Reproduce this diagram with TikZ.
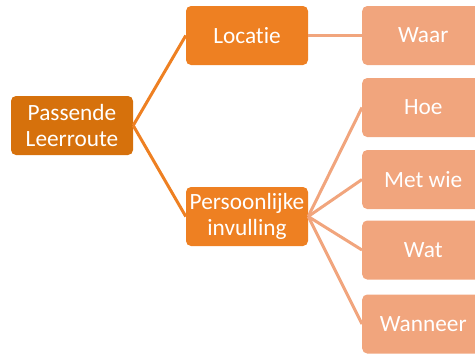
\documentclass[tikz,border=0pt]{standalone}
\usepackage{fontspec}
\setmainfont{Carlito}[Ligatures={NoCommon}]
\definecolor{rootc}{RGB}{214,113,12}
\definecolor{midc}{RGB}{238,128,34}
\definecolor{leafc}{RGB}{241,165,125}
\tikzset{
  box/.style={rounded corners=5pt, minimum width=122pt, minimum height=59pt, text=white, align=center, inner sep=0pt, font=\fontsize{23.3}{25.5}\selectfont},
  rootbox/.style={box, fill=rootc},
  midbox/.style={box, fill=midc},
  leafbox/.style={box, fill=leafc},
  midline/.style={draw=midc, line width=3pt},
  leafline/.style={draw=leafc, line width=3pt},
}
\begin{document}
\begin{tikzpicture}[x=1pt,y=-1pt]
\useasboundingbox (0,0) rectangle (475,354);
\begin{scope}
\clip (0,0) rectangle (475,354);
\node[rootbox] (root) at (72,125.5) {Passende\\Leerroute};
\node[midbox] (loc) at (247,35.5) {Locatie};
\node[midbox] (pers) at (247,216.5) {Persoonlijke\\invulling};
\node[leafbox, anchor=west] (waar) at (362,35.5) {Waar};
\node[leafbox, anchor=west] (hoe) at (362,107.5) {Hoe};
\node[leafbox, anchor=west] (met) at (362,179.5) {Met wie};
\node[leafbox, anchor=west] (wat) at (362,250) {Wat};
\node[leafbox, anchor=west] (wan) at (362,324) {Wanneer};
\draw[midline] (root.east) -- (loc.west);
\draw[midline] (root.east) -- (pers.west);
\draw[leafline] (loc.east) -- (waar.west);
\draw[leafline] (pers.east) -- (hoe.west);
\draw[leafline] (pers.east) -- (met.west);
\draw[leafline] (pers.east) -- (wat.west);
\draw[leafline] (pers.east) -- (wan.west);
\end{scope}
\end{tikzpicture}
\end{document}
